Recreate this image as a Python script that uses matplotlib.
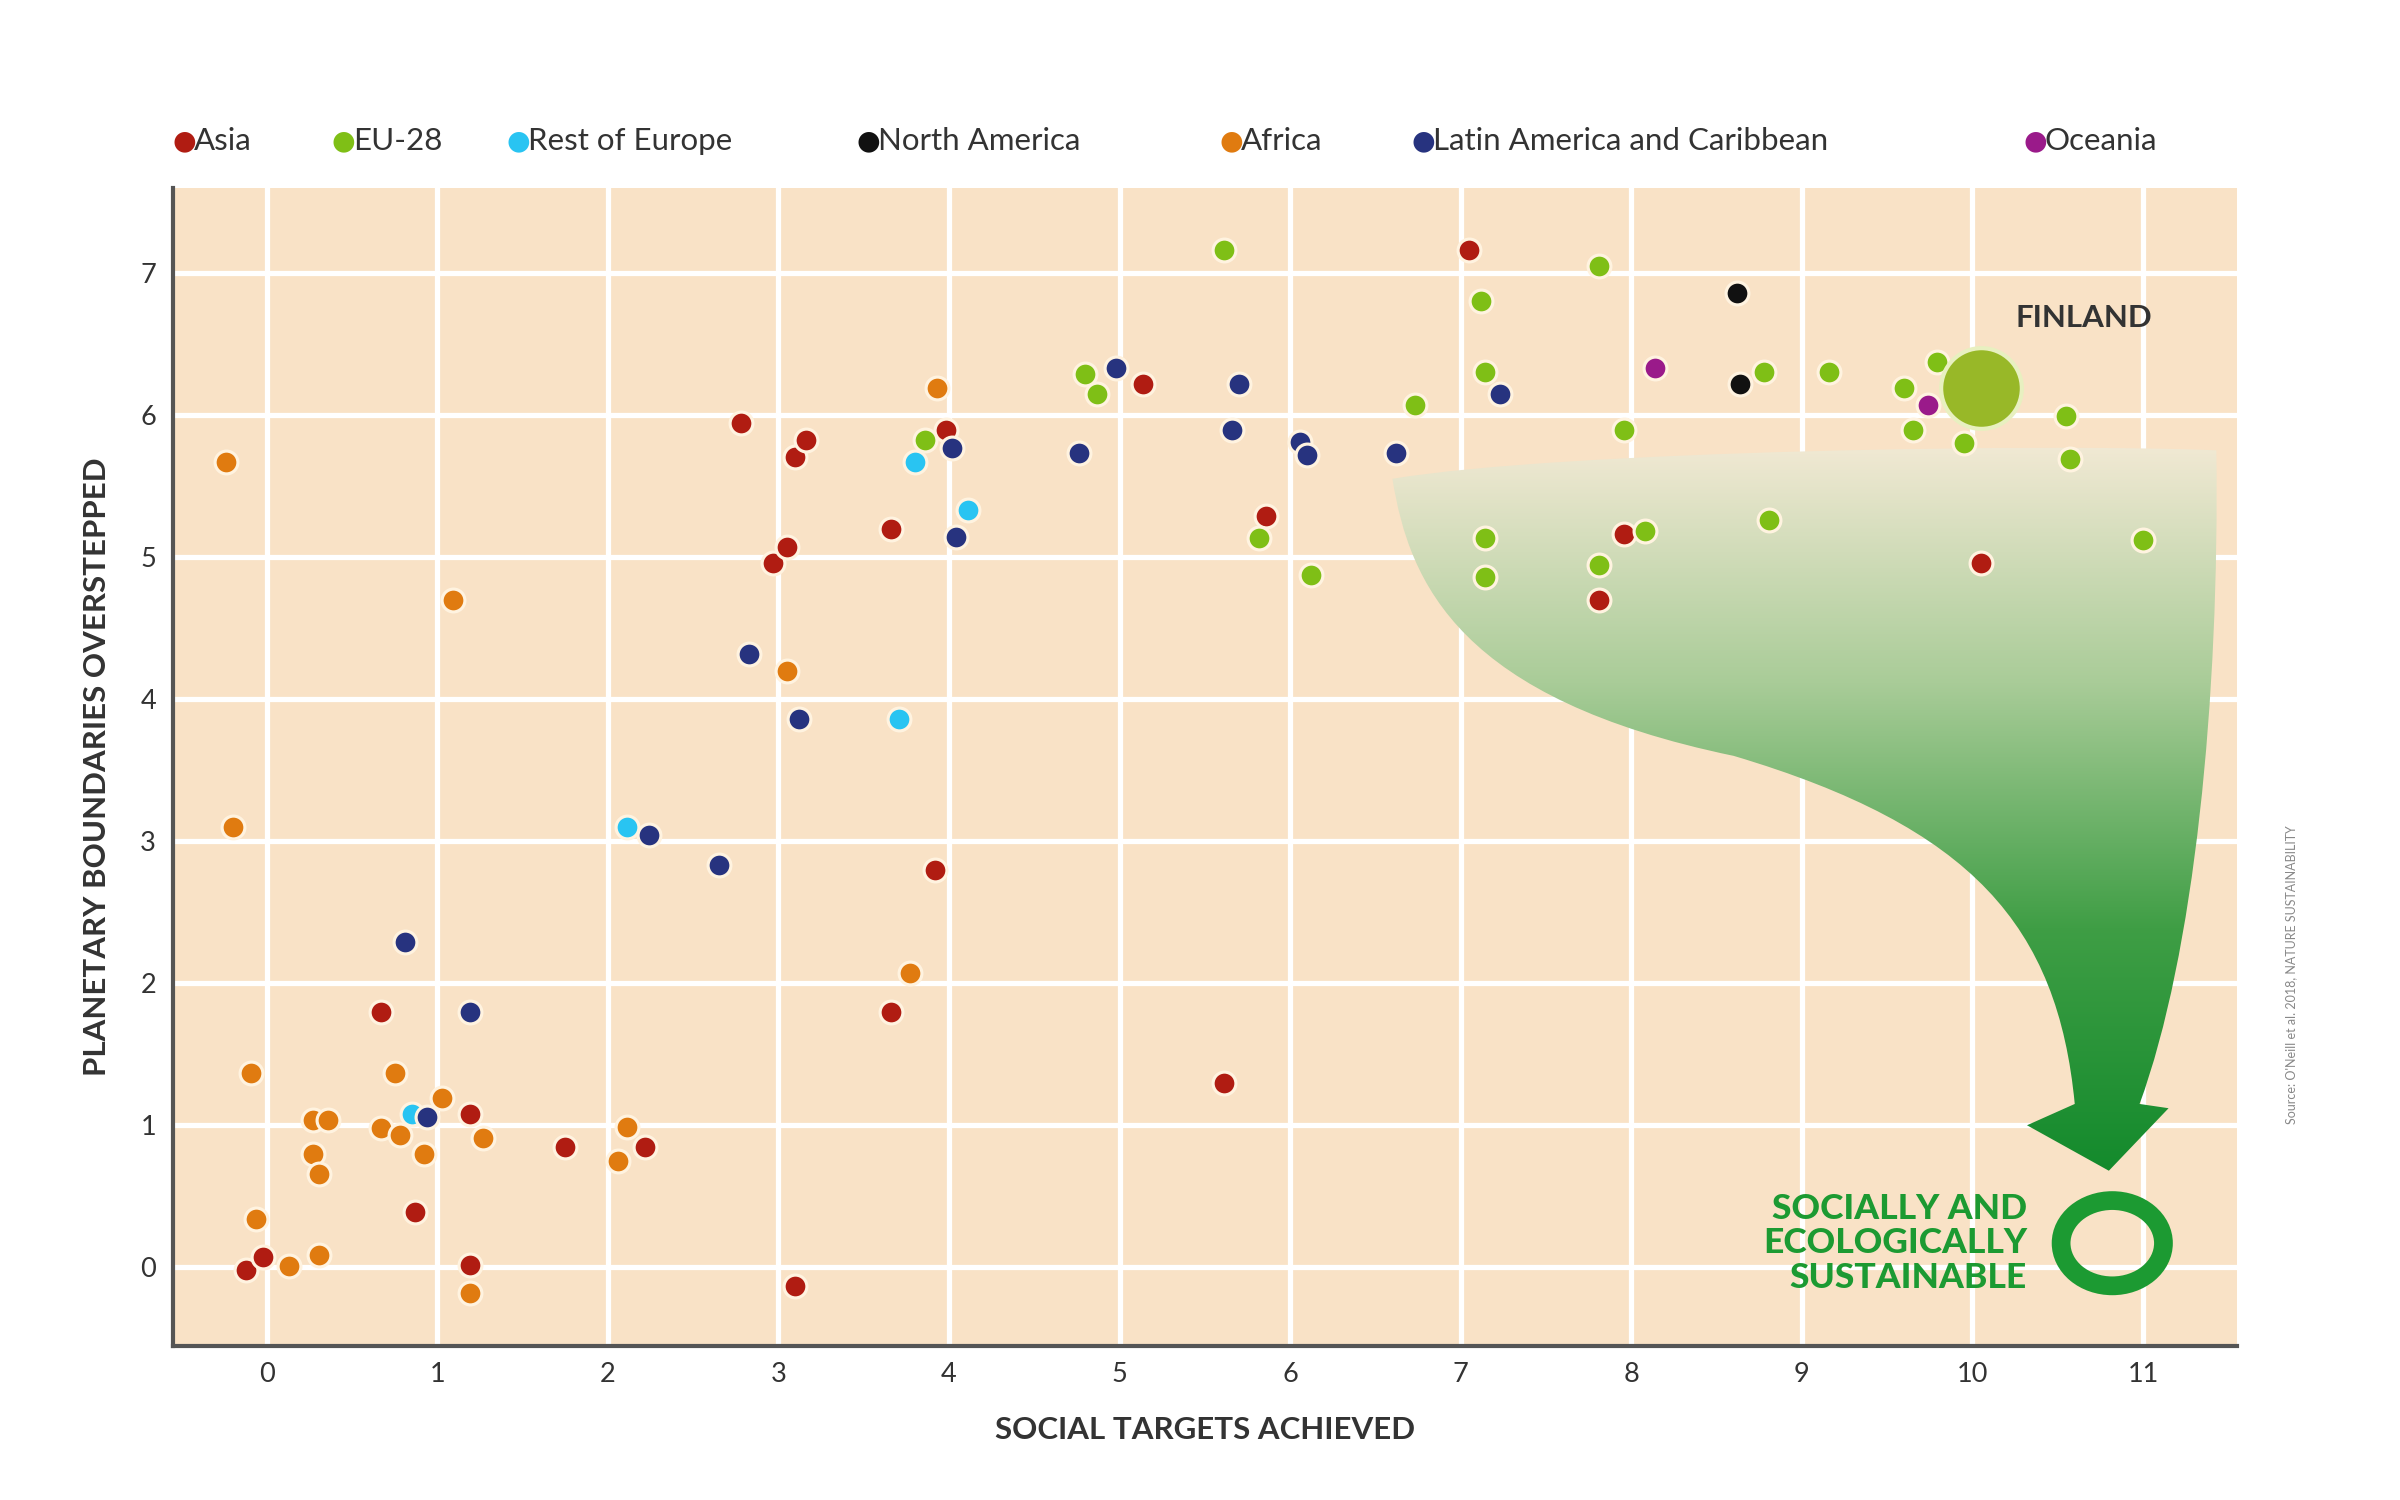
import numpy as np
import matplotlib
matplotlib.use('Agg')
import matplotlib.pyplot as plt
from matplotlib.path import Path
from matplotlib.patches import PathPatch, Circle
from matplotlib.colors import LinearSegmentedColormap

plt.rcParams['font.family'] = ['Lato', 'DejaVu Sans']

# social targets achieved (x), planetary boundaries overstepped (y)
asia_x = [7.05, 2.78, 3.10, 3.16, 2.97, 3.05, 3.66, 3.98, 5.14, 5.86, 7.96, 7.81, 10.05, 3.92, 3.66,
          5.61, 3.10, 0.67, 1.19, 1.75, 2.22, 0.87, 1.19, -0.12, -0.02]
asia_y = [7.16, 5.94, 5.70, 5.82, 4.96, 5.07, 5.20, 5.89, 6.22, 5.29, 5.16, 4.70, 4.96, 2.80, 1.80,
          1.30, -0.13, 1.80, 1.08, 0.85, 0.85, 0.39, 0.02, -0.02, 0.07]
eu_x = [5.61, 7.12, 7.81, 7.14, 6.73, 4.80, 4.87, 3.86, 7.96, 8.78, 9.16, 9.60, 9.65, 9.79, 9.95,
        10.55, 10.57, 11.00, 8.81, 8.08, 7.81, 7.14, 7.14, 6.12, 5.82]
eu_y = [7.16, 6.80, 7.05, 6.30, 6.07, 6.29, 6.15, 5.82, 5.89, 6.30, 6.30, 6.19, 5.89, 6.37, 5.80,
        5.99, 5.69, 5.12, 5.26, 5.18, 4.94, 5.13, 4.86, 4.87, 5.13]
roe_x = [3.80, 4.11, 2.11, 3.71, 0.85]
roe_y = [5.67, 5.33, 3.10, 3.86, 1.08]
na_x = [8.62, 8.64]
na_y = [6.86, 6.22]
africa_x = [-0.24, 3.93, 1.09, 3.05, -0.20, 3.77, -0.09, 0.75, 1.03, 1.27, 0.27, 0.36, 0.67, 0.78,
            0.92, 0.27, 0.31, 2.11, 2.06, -0.06, 0.31, 0.13, 1.19]
africa_y = [5.67, 6.19, 4.70, 4.20, 3.10, 2.07, 1.37, 1.37, 1.19, 0.91, 1.04, 1.04, 0.98, 0.93,
            0.80, 0.80, 0.66, 0.99, 0.75, 0.34, 0.09, 0.01, -0.18]
latam_x = [4.98, 5.70, 5.66, 6.06, 6.10, 6.62, 4.76, 7.23, 4.02, 4.04, 2.83, 3.12, 2.24, 2.65,
           0.81, 1.19, 0.94]
latam_y = [6.33, 6.22, 5.89, 5.81, 5.72, 5.73, 5.73, 6.15, 5.77, 5.14, 4.32, 3.86, 3.04, 2.83,
           2.29, 1.80, 1.06]
oce_x = [8.14, 9.74]
oce_y = [6.33, 6.07]
finland = (10.05, 6.19)

groups = [
    ('Asia', asia_x, asia_y, '#b01c12'),
    ('EU-28', eu_x, eu_y, '#7fbf16'),
    ('Rest of Europe', roe_x, roe_y, '#29c4f2'),
    ('North America', na_x, na_y, '#111111'),
    ('Africa', africa_x, africa_y, '#e07b10'),
    ('Latin America and Caribbean', latam_x, latam_y, '#27337f'),
    ('Oceania', oce_x, oce_y, '#9a1a8a'),
]
legend_pos = [0.072, 0.138, 0.211, 0.357, 0.508, 0.588, 0.843]

fig = plt.figure(figsize=(16, 10), dpi=150)
ax = fig.add_axes([0.072, 0.103, 0.86, 0.772])
ax.set_facecolor('#f9e2c6')
ax.set_xlim(-0.55, 11.55)
ax.set_ylim(-0.55, 7.6)
ax.set_xticks(range(0, 12))
ax.set_yticks(range(0, 8))
ax.grid(True, color='white', lw=2.5)
ax.set_axisbelow(True)
for s in ['top', 'right']:
    ax.spines[s].set_visible(False)
for s in ['left', 'bottom']:
    ax.spines[s].set_color('#555555')
    ax.spines[s].set_linewidth(2)
ax.tick_params(length=0, labelsize=13, pad=8, colors='#333333')

# green gradient arrow
verts = [(6.60, 5.55), (7.6, 5.75), (10.5, 5.80), (11.43, 5.75),
         (11.45, 4.0), (11.3, 2.2), (10.98, 1.15),
         (11.15, 1.12), (10.80, 0.68), (10.32, 1.0), (10.60, 1.15),
         (10.50, 2.4), (10.0, 3.1), (8.6, 3.6), (7.0, 4.0), (6.7, 4.8), (6.60, 5.55)]
codes = [Path.MOVETO, Path.CURVE4, Path.CURVE4, Path.CURVE4,
         Path.CURVE4, Path.CURVE4, Path.CURVE4,
         Path.LINETO, Path.LINETO, Path.LINETO, Path.LINETO,
         Path.CURVE4, Path.CURVE4, Path.CURVE4, Path.CURVE4, Path.CURVE4, Path.CURVE4]
patch = PathPatch(Path(verts, codes), facecolor='none', edgecolor='none')
ax.add_patch(patch)
cmap = LinearSegmentedColormap.from_list('g', ['#f4ead6', '#a9cc98', '#3f9e45', '#138a2c'])
grad = np.linspace(0, 1, 256).reshape(-1, 1)
im = ax.imshow(grad, extent=[6.5, 11.5, 0.65, 5.85], origin='upper', cmap=cmap,
               aspect='auto', zorder=1.5)
im.set_clip_path(patch)
ax.set_xlim(-0.55, 11.55)
ax.set_ylim(-0.55, 7.6)

for name, xs, ys, col in groups:
    ax.scatter(xs, ys, s=120, color=col, edgecolor='#fff3e0', linewidth=1.5, zorder=3)

ax.scatter([finland[0]], [finland[1]], s=1500, color='#98b828', edgecolor='#e8f0c0', linewidth=2, zorder=4)
ax.text(10.25, 6.62, 'FINLAND', fontsize=15, fontweight='bold', color='#333333', zorder=5)

ax.add_patch(Circle((10.82, 0.17), 0.3, fill=False, edgecolor='#1c9a32', lw=9, zorder=4))
ax.text(10.32, 0.17, 'SOCIALLY AND\nECOLOGICALLY\nSUSTAINABLE', ha='right', va='center',
        fontsize=17, fontweight='black', color='#1c9a32', linespacing=1.1, zorder=5)

ax.set_xlabel('SOCIAL TARGETS ACHIEVED', fontsize=15, fontweight='bold', color='#333333', labelpad=14)
ax.set_ylabel('PLANETARY BOUNDARIES OVERSTEPPED', fontsize=15, fontweight='bold', color='#333333', labelpad=14)

for (name, xs, ys, col), lx in zip(groups, legend_pos):
    fig.text(lx, 0.906, '\u25cf', color=col, fontsize=13, va='center', family=['DejaVu Sans'])
    fig.text(lx + 0.009, 0.906, name, color='#333333', fontsize=15, va='center')

fig.text(0.952, 0.35, "Source: O'Neill et al. 2018, NATURE SUSTAINABILITY", rotation=90,
         fontsize=6, color='#888888', va='center')

fig.savefig('out.png', dpi=150, facecolor='white')
